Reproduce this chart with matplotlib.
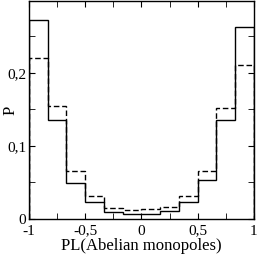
import numpy as np
import matplotlib
matplotlib.use("Agg")
import matplotlib.pyplot as plt
from matplotlib.ticker import MultipleLocator, FuncFormatter

edges = np.linspace(-1, 1, 13)
p_solid = [0.272, 0.135, 0.049, 0.023, 0.010, 0.007,
           0.007, 0.011, 0.023, 0.053, 0.136, 0.262]
p_dashed = [0.220, 0.154, 0.065, 0.032, 0.015, 0.013,
            0.014, 0.017, 0.031, 0.066, 0.152, 0.210]

plt.rcParams['font.family'] = ['Liberation Serif', 'DejaVu Serif']

fig = plt.figure(figsize=(2.58, 2.58), dpi=100)
ax = fig.add_axes([0.112, 0.151, 0.872, 0.845])

ax.stairs(p_solid, edges, color='black', lw=1.0)
ax.stairs(p_dashed, edges, color='black', lw=1.0, linestyle=(0, (4, 2)))

ax.set_xlim(-1, 1)
ax.set_ylim(0, 0.298)
ax.xaxis.set_major_locator(MultipleLocator(0.5))
ax.xaxis.set_minor_locator(MultipleLocator(0.25))
ax.yaxis.set_major_locator(MultipleLocator(0.1))
ax.yaxis.set_minor_locator(MultipleLocator(0.05))

def comma(v, pos):
    s = ('%g' % round(v, 3))
    return s.replace('.', ',')

ax.xaxis.set_major_formatter(FuncFormatter(comma))
ax.yaxis.set_major_formatter(FuncFormatter(comma))
ax.tick_params(which='both', direction='in', top=True, right=True,
               labelsize=11)
ax.tick_params(axis='x', pad=4)
ax.tick_params(axis='y', pad=2)
ax.tick_params(which='major', length=4)
ax.tick_params(which='minor', length=4)
for s in ax.spines.values():
    s.set_linewidth(1.0)

ax.set_xlabel('PL(Abelian monopoles)', fontsize=12, labelpad=0)
ax.set_ylabel('P', fontsize=12)
ax.yaxis.set_label_coords(-0.045, 0.5)

fig.savefig('out.png', dpi=100)
